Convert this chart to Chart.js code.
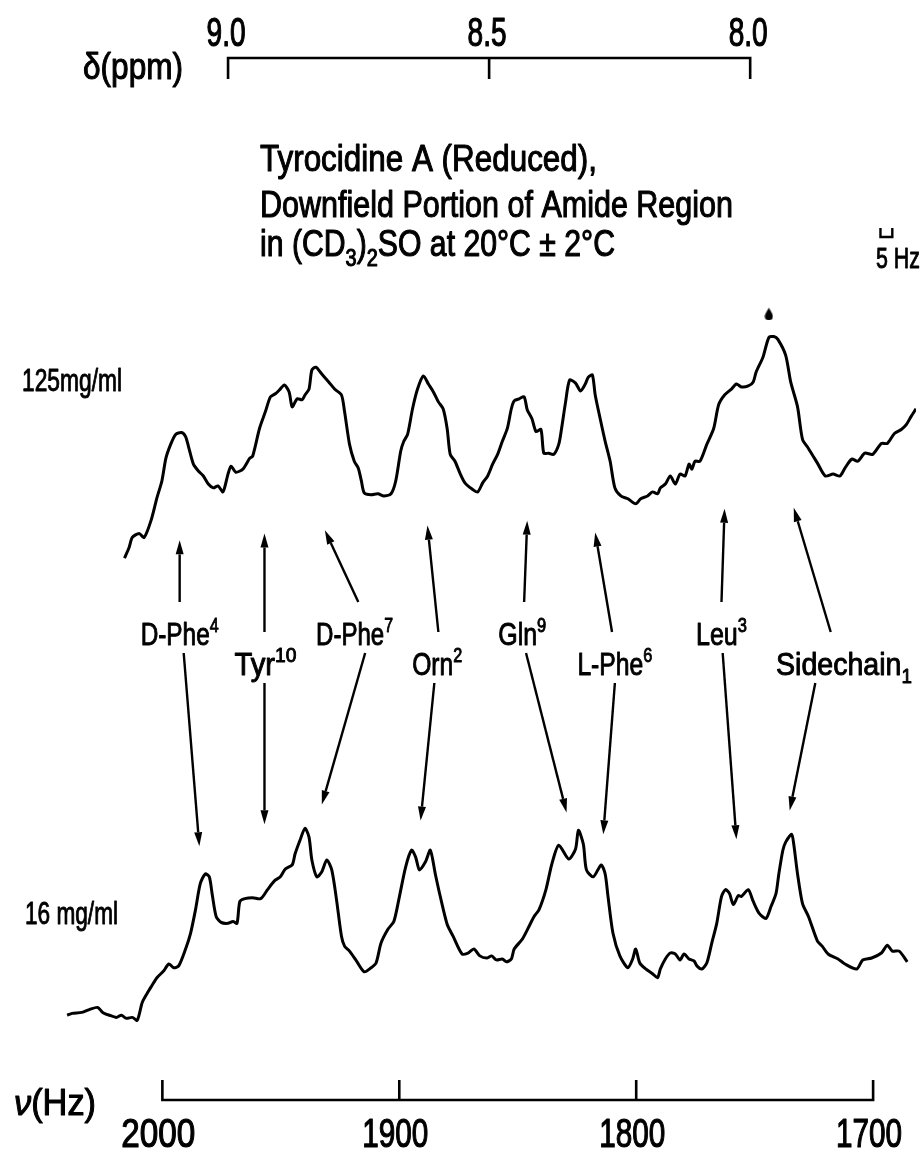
<!DOCTYPE html>
<html>
<head>
<meta charset="utf-8">
<script src="https://cdn.jsdelivr.net/npm/chart.js@4.4.1/dist/chart.umd.min.js"></script>
<style>
  html, body { margin: 0; padding: 0; background: #fff; }
  canvas { display: block; }
</style>
</head>
<body>
<canvas id="spec" width="922" height="1153"></canvas>
<script>
// 125 mg/ml trace: frequency (Hz) and intensity (arbitrary units)
const HZ_125 = [2016.0, 2014.0, 2012.7, 2009.8, 2007.7, 2004.8, 2002.3, 2000.2, 1998.5, 1996.5,
  1994.4, 1991.9, 1990.2, 1989.0, 1986.9, 1984.8, 1982.7, 1980.6, 1978.5, 1976.5,
  1974.4, 1972.3, 1971.0, 1969.0, 1966.0, 1963.1, 1961.9, 1959.0, 1956.5, 1954.4,
  1952.3, 1950.6, 1948.5, 1946.5, 1945.2, 1943.1, 1941.0, 1939.8, 1938.1, 1936.9,
  1935.2, 1932.7, 1929.8, 1927.3, 1924.4, 1923.1, 1921.0, 1919.0, 1917.3, 1916.0,
  1914.8, 1911.9, 1909.0, 1906.5, 1903.5, 1901.5, 1899.4, 1898.1, 1896.5, 1894.4,
  1892.3, 1889.8, 1887.7, 1885.6, 1883.5, 1881.5, 1879.8, 1878.5, 1876.5, 1874.4,
  1872.3, 1869.4, 1866.9, 1864.8, 1862.7, 1860.6, 1858.5, 1856.5, 1854.4, 1852.7,
  1851.5, 1849.4, 1847.3, 1846.0, 1844.0, 1842.3, 1840.2, 1839.0, 1836.9, 1834.8,
  1832.7, 1831.5, 1829.8, 1828.1, 1825.6, 1823.5, 1821.5, 1820.2, 1818.5, 1817.3,
  1815.2, 1813.1, 1811.0, 1809.0, 1806.5, 1803.5, 1800.2, 1798.1, 1795.2, 1793.1,
  1791.0, 1789.8, 1787.7, 1785.6, 1783.5, 1781.5, 1779.4, 1777.7, 1776.5, 1775.2,
  1773.1, 1770.2, 1767.3, 1765.2, 1762.7, 1759.8, 1757.7, 1755.6, 1752.7, 1750.6,
  1749.4, 1746.5, 1744.0, 1741.9, 1740.2, 1736.9, 1734.8, 1731.9, 1729.8, 1727.3,
  1723.5, 1720.2, 1716.9, 1714.0, 1711.9, 1709.0, 1706.5, 1703.5, 1700.2, 1696.5,
  1694.0, 1691.0, 1688.1, 1686.0, 1684.0, 1681.9];
const INT_125 = [7.1, 11.7, 15.8, 17.5, 15.8, 22.9, 32.5, 39.6, 49.2, 55.0,
  59.2, 60.0, 58.3, 54.2, 46.7, 43.8, 41.7, 38.3, 36.7, 37.5,
  35.0, 42.5, 45.8, 43.3, 44.6, 49.2, 50.0, 61.7, 68.8, 75.0,
  76.3, 77.9, 80.0, 77.1, 70.8, 74.2, 73.8, 75.8, 78.3, 86.3,
  87.5, 84.6, 81.3, 78.3, 75.8, 68.8, 55.0, 47.9, 45.0, 39.6,
  34.6, 33.8, 34.2, 33.3, 34.2, 39.6, 52.1, 56.3, 59.2, 70.0,
  78.3, 83.8, 80.4, 77.1, 72.9, 70.0, 61.7, 50.8, 47.9, 42.9,
  38.8, 36.3, 35.0, 38.8, 41.7, 46.7, 50.8, 56.3, 61.7, 70.0,
  73.3, 74.2, 75.0, 69.6, 65.8, 60.4, 61.3, 51.3, 51.3, 50.8,
  55.0, 61.7, 72.9, 82.1, 80.8, 77.5, 80.4, 83.3, 84.2, 75.8,
  65.8, 56.3, 47.9, 36.7, 33.3, 32.1, 30.0, 32.1, 33.3, 35.0,
  34.2, 36.7, 38.3, 41.7, 38.3, 42.5, 41.7, 46.7, 44.6, 47.9,
  47.9, 55.0, 61.7, 71.7, 75.8, 78.3, 80.4, 79.2, 79.6, 81.3,
  85.4, 91.7, 100.0, 100.4, 99.2, 92.5, 81.3, 70.8, 57.1, 53.3,
  47.1, 41.7, 42.5, 41.7, 45.0, 48.8, 47.9, 51.3, 50.8, 55.4,
  55.4, 59.6, 61.3, 63.3, 66.7, 70.0];

// 16 mg/ml trace: frequency (Hz) and intensity (arbitrary units)
const HZ_16 = [2040.2, 2038.1, 2034.0, 2030.6, 2027.3, 2025.2, 2022.3, 2019.4, 2017.3, 2015.2,
  2012.7, 2010.6, 2008.5, 2006.5, 2004.4, 2002.3, 1999.4, 1997.3, 1995.2, 1993.1,
  1990.2, 1988.1, 1986.0, 1984.0, 1981.9, 1980.2, 1979.0, 1977.3, 1975.2, 1972.3,
  1970.2, 1968.5, 1967.3, 1965.2, 1961.9, 1958.5, 1955.6, 1952.7, 1950.2, 1948.1,
  1945.2, 1944.0, 1941.9, 1939.8, 1938.1, 1936.9, 1934.8, 1932.7, 1930.6, 1928.5,
  1926.5, 1924.4, 1923.1, 1921.0, 1918.1, 1914.8, 1911.9, 1909.8, 1907.7, 1904.8,
  1902.3, 1900.2, 1897.3, 1894.8, 1893.1, 1891.5, 1889.0, 1886.9, 1884.8, 1882.7,
  1879.8, 1877.3, 1873.5, 1871.0, 1868.5, 1866.0, 1863.1, 1861.0, 1859.0, 1856.5,
  1854.8, 1852.7, 1851.5, 1848.1, 1845.2, 1843.1, 1841.0, 1838.1, 1835.6, 1832.7,
  1828.5, 1825.6, 1824.4, 1822.3, 1821.0, 1818.1, 1814.8, 1813.1, 1811.9, 1809.8,
  1806.9, 1803.5, 1801.5, 1800.2, 1798.5, 1796.0, 1793.1, 1791.0, 1789.8, 1787.7,
  1785.6, 1783.5, 1781.5, 1779.8, 1777.7, 1775.6, 1774.4, 1772.3, 1770.2, 1768.1,
  1766.0, 1764.0, 1762.3, 1760.6, 1759.0, 1756.9, 1755.6, 1752.7, 1750.6, 1748.1,
  1745.2, 1743.1, 1741.0, 1739.8, 1738.1, 1736.9, 1734.4, 1733.5, 1731.9, 1729.8,
  1727.3, 1723.5, 1721.5, 1719.0, 1714.8, 1711.9, 1706.9, 1704.4, 1700.6, 1696.5,
  1694.0, 1691.9, 1689.0, 1685.6];
const INT_16 = [6.3, 7.1, 7.5, 8.8, 9.6, 7.5, 6.3, 5.4, 6.3, 5.0,
  5.4, 4.2, 11.7, 15.4, 18.8, 22.1, 25.0, 27.9, 26.3, 27.1,
  34.2, 40.8, 50.8, 61.7, 65.8, 64.6, 57.5, 47.9, 45.4, 45.0,
  45.8, 45.0, 54.2, 55.4, 55.8, 55.4, 59.2, 62.9, 64.6, 67.9,
  69.6, 74.2, 80.0, 85.0, 81.3, 71.7, 64.6, 66.7, 71.7, 67.5,
  55.0, 39.6, 35.4, 33.3, 29.2, 24.6, 26.3, 28.3, 36.7, 42.5,
  45.8, 55.0, 68.8, 75.8, 72.9, 67.5, 70.8, 75.8, 65.8, 56.3,
  44.6, 39.6, 32.1, 32.5, 34.2, 31.3, 30.4, 31.3, 29.6, 30.0,
  28.8, 30.0, 34.2, 38.3, 43.8, 47.9, 50.8, 59.2, 70.0, 77.9,
  72.1, 76.3, 84.2, 78.3, 67.5, 64.6, 69.6, 65.8, 56.3, 40.8,
  31.3, 26.3, 30.0, 34.2, 28.3, 25.8, 23.8, 22.1, 25.8, 30.0,
  32.5, 32.1, 29.6, 32.1, 30.0, 29.2, 27.1, 25.8, 28.3, 36.7,
  45.0, 56.3, 59.2, 57.5, 52.9, 56.7, 56.3, 59.2, 54.2, 49.2,
  47.1, 52.1, 57.5, 65.8, 75.8, 79.2, 82.5, 78.3, 65.8, 53.3,
  47.9, 37.5, 35.4, 32.1, 30.0, 27.9, 25.8, 29.6, 30.4, 32.5,
  35.8, 33.3, 33.3, 28.8];

// reference mark above the strongest 125 mg/ml line
const MARK_HZ = [1744.0];
const MARK_INT = [110.0];

// axis ticks
const HZ_TICKS = [2000, 1900, 1800, 1700];
const PPM_TICKS = [9.0, 8.5, 8.0];
const PPM_TICK_LABELS = ['9.0', '8.5', '8.0'];

// residue assignments: name, index, arrow tips on each trace (Hz, intensity)
const RES_NAME = ['D-Phe', 'Tyr', 'D-Phe', 'Orn', 'Gln', 'L-Phe', 'Leu', 'Sidechain'];
const RES_INDEX = ['4', '10', '7', '2', '9', '6', '3', '1'];
const TIP_125_HZ = [1992.7, 1956.9, 1931.4, 1888.1, 1846.0, 1817.3, 1762.7, 1733.5];
const TIP_125_INT = [14.6, 17.5, 18.8, 20.8, 22.9, 17.9, 27.9, 28.3];
const TIP_16_HZ = [1984.4, 1956.9, 1932.7, 1891.0, 1829.4, 1813.9, 1757.7, 1735.2];
const TIP_16_INT = [77.5, 86.7, 95.0, 88.3, 91.7, 82.5, 80.4, 92.5];

// where each assignment label sits and where its two arrows leave it
const LABEL_LAYOUT = [
  { hz: 1992.7, row: 0, w: 78,  upHz: 1992.7, downHz: 1991.0 },
  { hz: 1956.5, row: 1, w: 62,  upHz: 1956.9, downHz: 1956.9 },
  { hz: 1918.9, row: 0, w: 77,  upHz: 1917.3, downHz: 1914.4 },
  { hz: 1884.0, row: 1, w: 50,  upHz: 1883.5, downHz: 1885.2 },
  { hz: 1848.1, row: 0, w: 48,  upHz: 1847.3, downHz: 1846.5 },
  { hz: 1809.0, row: 1, w: 75,  upHz: 1810.2, downHz: 1809.0 },
  { hz: 1764.0, row: 0, w: 51,  upHz: 1764.0, downHz: 1763.5 },
  { hz: 1712.3, row: 1, w: 136, upHz: 1717.9, downHz: 1724.4, sub: true }
];
const ROW_Y = [633, 663];

const FONT = "'Liberation Sans', 'DejaVu Sans', Arial, sans-serif";

// text with optional super/subscripts, squeezed horizontally to a given width
function drawText(ctx, parts, x, cy, size, width, align) {
  const fontOf = p => (p.k === 'it' ? 'italic ' : '') +
    ((p.k === 'sup' || p.k === 'sub') ? size * 0.66 : size) + 'px ' + FONT;
  let natural = 0;
  const widths = parts.map(p => { ctx.font = fontOf(p); const w = ctx.measureText(p.t).width; natural += w; return w; });
  const sx = width ? width / natural : 0.8;
  const total = natural * sx;
  const x0 = align === 'center' ? x - total / 2 : (align === 'right' ? x - total : x);
  ctx.save();
  ctx.translate(x0, cy + size * 0.36);
  ctx.scale(sx, 1);
  ctx.fillStyle = '#000';
  ctx.strokeStyle = '#000';
  ctx.lineWidth = size * 0.03;
  ctx.lineJoin = 'round';
  ctx.textAlign = 'left';
  ctx.textBaseline = 'alphabetic';
  let cx = 0;
  parts.forEach((p, i) => {
    ctx.font = fontOf(p);
    const dy = p.k === 'sup' ? -size * 0.4 : (p.k === 'sub' ? size * 0.26 : 0);
    ctx.fillText(p.t, cx, dy);
    ctx.strokeText(p.t, cx, dy);
    cx += widths[i];
  });
  ctx.restore();
}

function drawArrow(ctx, x1, y1, x2, y2) {
  const ang = Math.atan2(y2 - y1, x2 - x1);
  const head = 14, half = 4;
  const bx = x2 - Math.cos(ang) * head, by = y2 - Math.sin(ang) * head;
  ctx.beginPath();
  ctx.moveTo(x1, y1);
  ctx.lineTo(bx, by);
  ctx.stroke();
  ctx.beginPath();
  ctx.moveTo(x2, y2);
  ctx.lineTo(bx - Math.sin(ang) * half, by + Math.cos(ang) * half);
  ctx.lineTo(bx + Math.sin(ang) * half, by - Math.cos(ang) * half);
  ctx.closePath();
  ctx.fill();
}

// small teardrop used for the reference mark
const drop = document.createElement('canvas');
drop.width = 9; drop.height = 13;
(function () {
  const d = drop.getContext('2d');
  d.fillStyle = '#000';
  d.beginPath();
  d.moveTo(4.5, 0.5);
  d.bezierCurveTo(6.5, 4, 8.5, 7, 8.5, 9);
  d.arc(4.5, 9, 4, 0, Math.PI, false);
  d.bezierCurveTo(0.5, 7, 2.5, 4, 4.5, 0.5);
  d.fill();
})();

const decorations = {
  id: 'decorations',
  afterDatasetsDraw(chart) {
    const ctx = chart.ctx;
    const xs = chart.scales.x, ps = chart.scales.ppm;
    const yt = chart.scales.yTop, yb = chart.scales.yBot;
    ctx.save();
    ctx.strokeStyle = '#000';
    ctx.fillStyle = '#000';
    ctx.lineWidth = 2.6;
    ctx.lineCap = 'butt';

    // chemical shift scale (top)
    const topLine = 58, topTick = 79;
    ctx.beginPath();
    ctx.moveTo(ps.getPixelForValue(PPM_TICKS[0]), topLine);
    ctx.lineTo(ps.getPixelForValue(PPM_TICKS[PPM_TICKS.length - 1]), topLine);
    PPM_TICKS.forEach(v => {
      const p = ps.getPixelForValue(v);
      ctx.moveTo(p, topLine - 1.3);
      ctx.lineTo(p, topTick);
    });
    ctx.stroke();
    PPM_TICKS.forEach((v, i) => drawText(ctx, [{ t: PPM_TICK_LABELS[i] }], ps.getPixelForValue(v) - 2, 32, 40, 39, 'center'));
    drawText(ctx, [{ t: 'δ(ppm)' }], 83, 66, 36, 100, 'left');

    // frequency scale (bottom)
    const botLine = 1100, botTick = 1080;
    ctx.beginPath();
    ctx.moveTo(xs.getPixelForValue(HZ_TICKS[0]), botLine);
    ctx.lineTo(xs.getPixelForValue(HZ_TICKS[HZ_TICKS.length - 1]), botLine);
    HZ_TICKS.forEach(v => {
      const p = xs.getPixelForValue(v);
      ctx.moveTo(p, botLine + 1.3);
      ctx.lineTo(p, botTick);
    });
    ctx.stroke();
    HZ_TICKS.forEach(v => drawText(ctx, [{ t: String(v) }], xs.getPixelForValue(v) - 4, 1133, 40, v === 2000 ? 74 : 66, 'center'));
    drawText(ctx, [{ t: 'ν', k: 'it' }, { t: '(Hz)' }], 14, 1102, 36, 82, 'left');

    // title block
    drawText(ctx, [{ t: 'Tyrocidine A (Reduced),' }], 260, 158, 37, 337, 'left');
    drawText(ctx, [{ t: 'Downfield Portion of Amide Region' }], 260, 204, 37, 473, 'left');
    drawText(ctx, [{ t: 'in (CD' }, { t: '3', k: 'sub' }, { t: ')' }, { t: '2', k: 'sub' },
      { t: 'SO at 20°C ± 2°C' }], 260, 243, 37, 355, 'left');

    // 5 Hz bar
    const b0 = xs.getPixelForValue(1696.9), b1 = xs.getPixelForValue(1696.9 - 5);
    ctx.lineWidth = 2.4;
    ctx.beginPath();
    ctx.moveTo(b0, 228); ctx.lineTo(b0, 237); ctx.lineTo(b1, 237); ctx.lineTo(b1, 228);
    ctx.stroke();
    drawText(ctx, [{ t: '5 Hz' }], 876, 257, 30, 44, 'left');

    // concentration labels
    drawText(ctx, [{ t: '125mg/ml' }], 22, 380, 31, 100, 'left');
    drawText(ctx, [{ t: '16 mg/ml' }], 25, 913, 31, 93, 'left');

    // assignment labels and arrows
    ctx.lineWidth = 2.4;
    LABEL_LAYOUT.forEach((L, i) => {
      const cy = ROW_Y[L.row];
      const lx = xs.getPixelForValue(L.hz);
      drawText(ctx, [{ t: RES_NAME[i] }, { t: RES_INDEX[i], k: L.sub ? 'sub' : 'sup' }], lx, cy, 32, L.w, 'center');
      drawArrow(ctx, xs.getPixelForValue(L.upHz), cy - 31,
        xs.getPixelForValue(TIP_125_HZ[i]), yt.getPixelForValue(TIP_125_INT[i]));
      drawArrow(ctx, xs.getPixelForValue(L.downHz), cy + 20,
        xs.getPixelForValue(TIP_16_HZ[i]), yb.getPixelForValue(TIP_16_INT[i]));
    });
    ctx.restore();
  }
};

const toPoints = (xs, ys) => xs.map((x, i) => ({ x, y: ys[i] }));

new Chart(document.getElementById('spec'), {
  type: 'line',
  data: {
    datasets: [
      {
        label: '125 mg/ml',
        data: toPoints(HZ_125, INT_125),
        xAxisID: 'x', yAxisID: 'yTop',
        borderColor: '#000', borderWidth: 3,
        pointRadius: 0, tension: 0.25, fill: false
      },
      {
        label: '16 mg/ml',
        data: toPoints(HZ_16, INT_16),
        xAxisID: 'x', yAxisID: 'yBot',
        borderColor: '#000', borderWidth: 3,
        pointRadius: 0, tension: 0.25, fill: false
      },
      {
        type: 'scatter',
        label: 'mark',
        data: toPoints(MARK_HZ, MARK_INT),
        xAxisID: 'x', yAxisID: 'yTop',
        pointStyle: drop, pointRadius: 5,
        backgroundColor: '#000', borderColor: '#000'
      }
    ]
  },
  options: {
    responsive: false,
    animation: false,
    events: [],
    layout: { padding: 0 },
    plugins: { legend: { display: false }, tooltip: { enabled: false }, title: { display: false } },
    scales: {
      x: { type: 'linear', reverse: true, min: 1681.9, max: 2066.0, display: false },
      ppm: { type: 'linear', axis: 'x', position: 'top', reverse: true, min: 7.6824, max: 9.4253, display: false },
      yTop: { type: 'linear', min: -240.83, max: 239.58, display: false },
      yBot: { type: 'linear', min: -49.17, max: 431.25, display: false }
    }
  },
  plugins: [decorations]
});
</script>
</body>
</html>
